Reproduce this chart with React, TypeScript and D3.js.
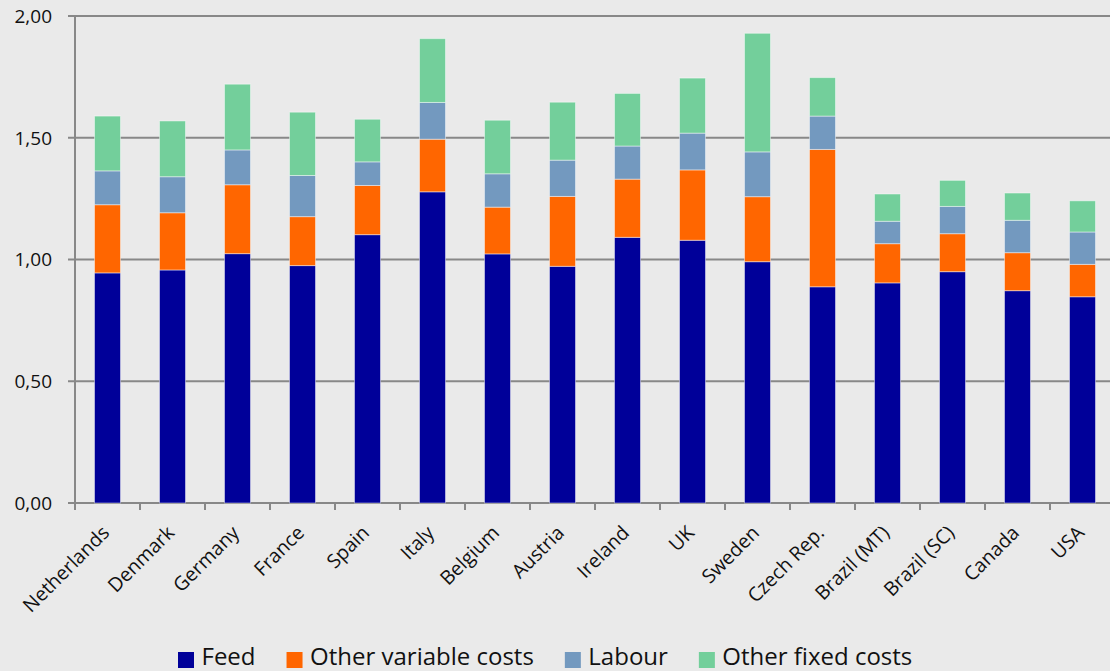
import React, { useEffect, useRef } from 'react';
import * as d3 from 'd3';

const countries = [
  'Netherlands', 'Denmark', 'Germany', 'France', 'Spain', 'Italy', 'Belgium', 'Austria',
  'Ireland', 'UK', 'Sweden', 'Czech Rep.', 'Brazil (MT)', 'Brazil (SC)', 'Canada', 'USA',
];
const feed = [0.945, 0.957, 1.024, 0.975, 1.102, 1.278, 1.023, 0.972, 1.091, 1.079, 0.991, 0.888, 0.904, 0.95, 0.872, 0.847];
const otherVariable = [0.28, 0.235, 0.283, 0.201, 0.202, 0.216, 0.192, 0.287, 0.239, 0.289, 0.267, 0.564, 0.161, 0.156, 0.156, 0.133];
const labour = [0.139, 0.148, 0.143, 0.169, 0.097, 0.151, 0.137, 0.149, 0.136, 0.151, 0.184, 0.137, 0.092, 0.112, 0.133, 0.133];
const otherFixed = [0.225, 0.229, 0.27, 0.26, 0.175, 0.262, 0.22, 0.238, 0.216, 0.226, 0.487, 0.158, 0.112, 0.107, 0.112, 0.128];

const seriesNames = ['Feed', 'Other variable costs', 'Labour', 'Other fixed costs'];
const seriesColors = ['#000099', '#ff6600', '#7399bf', '#73cf9b'];
const yTicks = [0, 0.5, 1, 1.5, 2];

const W = 1110;
const H = 671;
const FONT = '"Open Sans", Lato, sans-serif';

export default function App() {
  const svgRef = useRef<SVGSVGElement>(null);

  useEffect(() => {
    document.body.style.margin = '0';
    if (!svgRef.current) return;
    const svg = d3.select(svgRef.current);
    svg.selectAll('*').remove();

    const left = 75, right = 1115, top = 16, bottom = 503;
    const x = d3.scaleBand<string>().domain(countries).range([left, right]).paddingInner(0.6).paddingOuter(0.3);
    const y = d3.scaleLinear().domain([0, 2]).range([bottom, top]);

    svg.append('rect').attr('width', W).attr('height', H).attr('fill', '#eaeaea');

    const rows = countries.map((c, i) => ({
      country: c,
      'Feed': feed[i],
      'Other variable costs': otherVariable[i],
      'Labour': labour[i],
      'Other fixed costs': otherFixed[i],
    }));
    const stacked = d3.stack<any>().keys(seriesNames)(rows);

    // gridlines + y ticks
    svg.append('g').selectAll('line').data(yTicks).join('line')
      .attr('x1', left - 7).attr('x2', W)
      .attr('y1', d => y(d)).attr('y2', d => y(d))
      .attr('stroke', '#888').attr('stroke-width', 2);

    svg.append('g').selectAll('text').data(yTicks).join('text')
      .attr('x', 52).attr('y', d => y(d)).attr('dy', '0.36em')
      .attr('text-anchor', 'end')
      .style('font-family', FONT).style('font-size', '19px').attr('fill', '#111')
      .text(d => d3.format('.2f')(d).replace('.', ','));

    // y axis line
    svg.append('line').attr('x1', left).attr('x2', left).attr('y1', top).attr('y2', bottom + 7)
      .attr('stroke', '#888').attr('stroke-width', 2);

    // x ticks at category boundaries
    const step = x.step();
    const boundaries = d3.range(countries.length + 1).map(i => left + i * step);
    svg.append('g').selectAll('line').data(boundaries).join('line')
      .attr('x1', d => d).attr('x2', d => d).attr('y1', bottom).attr('y2', bottom + 7)
      .attr('stroke', '#888').attr('stroke-width', 2);

    // bars
    svg.append('g').selectAll('g').data(stacked).join('g')
      .attr('fill', (_, i) => seriesColors[i])
      .selectAll('rect').data(d => d).join('rect')
      .attr('x', d => x(d.data.country)!)
      .attr('width', x.bandwidth())
      .attr('y', d => y(d[1]))
      .attr('height', d => y(d[0]) - y(d[1]))
      .attr('stroke', 'rgba(255,255,255,0.45)').attr('stroke-width', 1);

    // x labels
    svg.append('g').selectAll('text').data(countries).join('text')
      .attr('transform', d => `translate(${x(d)! + x.bandwidth() / 2 + 3},${bottom + 31}) rotate(-45)`)
      .attr('text-anchor', 'end')
      .style('font-family', FONT).style('font-size', '19.5px').attr('fill', '#111')
      .text(d => d);

    // legend
    const lg = svg.append('g');
    let lx = 178;
    seriesNames.forEach((name, i) => {
      lg.append('rect').attr('x', lx).attr('y', 652).attr('width', 16).attr('height', 16).attr('fill', seriesColors[i]);
      const t = lg.append('text').attr('x', lx + 23.5).attr('y', 665)
        .style('font-family', FONT).style('font-size', '24px').attr('fill', '#111').text(name);
      const len = (t.node() as SVGTextElement).getComputedTextLength();
      lx += 23.5 + len + 31;
    });
  }, []);

  return <svg ref={svgRef} width={W} height={H} style={{ display: 'block' }} />;
}
